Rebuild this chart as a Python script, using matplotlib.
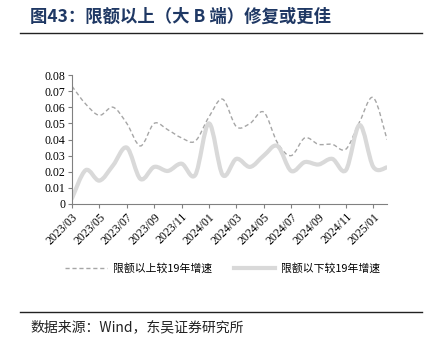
import matplotlib
matplotlib.use("Agg")
import matplotlib.pyplot as plt
from matplotlib.path import Path
from matplotlib.patches import PathPatch
from matplotlib.lines import Line2D
import numpy as np

months = ["2023/03","2023/04","2023/05","2023/06","2023/07","2023/08","2023/09","2023/10",
          "2023/11","2023/12","2024/01","2024/02","2024/03","2024/04","2024/05","2024/06",
          "2024/07","2024/08","2024/09","2024/10","2024/11","2024/12","2025/01","2025/02"]
above = [0.073, 0.062, 0.055, 0.060, 0.050, 0.036, 0.050, 0.046, 0.041, 0.039, 0.054, 0.065,
         0.048, 0.050, 0.057, 0.038, 0.030, 0.041, 0.037, 0.037, 0.034, 0.051, 0.066, 0.040]
below = [0.0035, 0.021, 0.0145, 0.024, 0.035, 0.0155, 0.023, 0.0205, 0.025, 0.018, 0.050, 0.018,
         0.028, 0.023, 0.030, 0.036, 0.0205, 0.026, 0.0245, 0.028, 0.021, 0.049, 0.023, 0.0227]
yticks = [0, 0.01, 0.02, 0.03, 0.04, 0.05, 0.06, 0.07, 0.08]
ytick_labels = ["0", "0.01", "0.02", "0.03", "0.04", "0.05", "0.06", "0.07", "0.08"]
series_names = ["限额以上较19年增速", "限额以下较19年增速"]
title = "图43：限额以上（大 B 端）修复或更佳"
source = "数据来源：Wind，东吴证券研究所"

SERIF = ["Liberation Serif", "Noto Sans CJK SC", "DejaVu Serif"]
CJK = ["Noto Sans CJK SC", "Liberation Serif"]

def smooth_path(x, y, t=1/6):
    x = np.asarray(x, float); y = np.asarray(y, float)
    n = len(x)
    verts = [(x[0], y[0])]
    codes = [Path.MOVETO]
    for i in range(n - 1):
        p0 = (x[i-1], y[i-1]) if i > 0 else (x[i], y[i])
        p1 = (x[i], y[i]); p2 = (x[i+1], y[i+1])
        p3 = (x[i+2], y[i+2]) if i + 2 < n else (x[i+1], y[i+1])
        c1 = (p1[0] + (p2[0]-p0[0])*t, p1[1] + (p2[1]-p0[1])*t)
        c2 = (p2[0] - (p3[0]-p1[0])*t, p2[1] - (p3[1]-p1[1])*t)
        verts += [c1, c2, p2]
        codes += [Path.CURVE4]*3
    return Path(verts, codes)

fig = plt.figure(figsize=(4.31, 3.45), dpi=100)
ax = fig.add_axes([72/431, 1-204/345, (387-72)/431, (204-75)/345])

x = np.arange(len(months))
ax.add_patch(PathPatch(smooth_path(x, above), facecolor="none", edgecolor="#A6A6A6",
                       lw=1.0, ls=(0, (3, 2))))
ax.add_patch(PathPatch(smooth_path(x, below), facecolor="none", edgecolor="#D9D9D9",
                       lw=3.0, capstyle="round", joinstyle="round"))

ax.set_xlim(0, len(months) - 1)
ax.set_ylim(0, 0.08)
ax.set_yticks(yticks)
ax.set_yticklabels(ytick_labels, fontfamily=SERIF, fontsize=8.5)
ax.set_xticks(x[::2])
ax.set_xticklabels(months[::2], rotation=45, ha="right", va="top", rotation_mode="anchor",
                   fontfamily=SERIF, fontsize=8.5)
for s in ["top", "right"]:
    ax.spines[s].set_visible(False)
for s in ["left", "bottom"]:
    ax.spines[s].set_color("#808080")
    ax.spines[s].set_linewidth(0.8)
ax.tick_params(axis="both", direction="out", length=3, width=0.8, color="#808080", pad=2)

# legend
h1 = Line2D([], [], color="#A6A6A6", lw=1.0, ls=(0, (3, 2)))
h2 = Line2D([], [], color="#D9D9D9", lw=3.0)
leg = fig.legend([h1, h2], series_names, loc="center", bbox_to_anchor=(223/431, 1-268/345),
                 ncol=2, frameon=False, prop={"family": CJK, "size": 7.8},
                 handlelength=3.8, columnspacing=2.0, handletextpad=0.6)

# title and rules
fig.text(30/431, 1-17/345, title, fontfamily=CJK, fontsize=12.5, fontweight="bold",
         color="#1F3864", va="center", ha="left")
fig.add_artist(Line2D([20/431, 422/431], [1-33/345, 1-33/345], color="#222222", lw=1.0))
fig.add_artist(Line2D([20/431, 422/431], [1-312/345, 1-312/345], color="#222222", lw=1.0))
fig.text(30/431, 1-327/345, source, fontfamily=CJK, fontsize=10, color="#222222",
         va="center", ha="left")

fig.savefig("out.png", dpi=100)
